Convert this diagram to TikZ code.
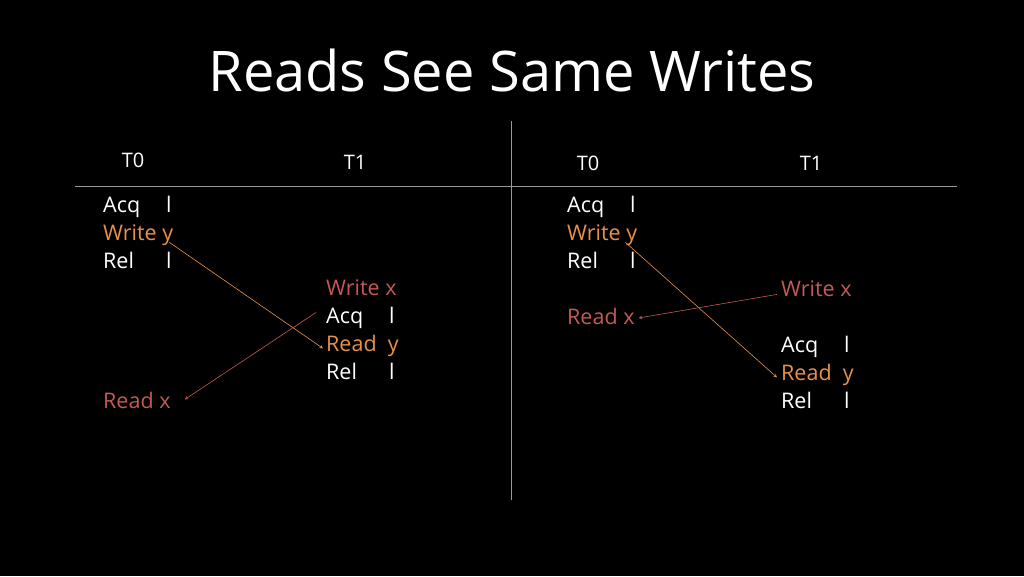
\documentclass[tikz,border=0pt]{standalone}
\usepackage{fontspec}
\setmainfont{Open Sans}
\usetikzlibrary{positioning}
\definecolor{wry}{RGB}{232,145,74}
\definecolor{rdx}{RGB}{196,90,84}
\tikzset{
  txt/.style={anchor=base west,inner sep=0pt,text=white,font=\fontsize{21.5}{26}\selectfont},
  hdr/.style={inner sep=0pt,text=white,font=\fontsize{20}{24}\selectfont},
  link/.style={line width=0.6pt,-stealth}
}
\newcommand{\lk}[2]{\makebox[63pt][l]{#1}#2}
\begin{document}
\begin{tikzpicture}[x=1pt,y=-1pt]
  \fill[black] (0,0) rectangle (1024,576);
  \useasboundingbox (0,0) rectangle (1024,576);
  %► Title and rules
  \node[text=white,font=\fontsize{56}{66}\selectfont] (title) at (512,70) {Reads See Same Writes};
  \draw[gray!80,line width=0.8pt] (75,186) -- (957,186);
  \draw[gray!80,line width=0.8pt] (511,121) -- (511,500);
  %► Left case
  \node[hdr] (lt0) at (133,160) {T0};
  \node[hdr] (lt1) at (355,162) {T1};
  \node[txt] (lacq0) at (103,212) {\lk{Acq}{l}};
  \node[txt,text=wry] (lwy) at (103,240) {Write y};
  \node[txt] (lrel0) at (103,268) {\lk{Rel}{l}};
  \node[txt,text=rdx] (lwx) at (326,295) {Write x};
  \node[txt] (lacq1) at (326,323) {\lk{Acq}{l}};
  \node[txt,text=wry] (lry) at (326,351) {Read\ \ y};
  \node[txt] (lrel1) at (326,379) {\lk{Rel}{l}};
  \node[txt,text=rdx] (lrx) at (103,408) {Read x};
  \draw[link,wry] ([xshift=-4pt,yshift=3pt]lwy.south east) -- ([xshift=-3pt,yshift=-3pt]lry.west);
  \draw[link,rdx] ([xshift=-10pt,yshift=-6pt]lacq1.north west) -- ([xshift=14pt,yshift=-8pt]lrx.north east);
  %► Right case
  \node[hdr] (rt0) at (588,163) {T0};
  \node[hdr] (rt1) at (811,163) {T1};
  \node[txt] (racq0) at (567,212) {\lk{Acq}{l}};
  \node[txt,text=wry] (rwy) at (567,240) {Write y};
  \node[txt] (rrel0) at (567,268) {\lk{Rel}{l}};
  \node[txt,text=rdx] (rrx) at (567,324) {Read x};
  \node[txt,text=rdx] (rwx) at (781,296) {Write x};
  \node[txt] (racq1) at (781,352) {\lk{Acq}{l}};
  \node[txt,text=wry] (rry) at (781,380) {Read\ \ y};
  \node[txt] (rrel1) at (781,408) {\lk{Rel}{l}};
  \draw[link,wry] ([xshift=-12pt,yshift=3pt]rwy.south east) -- ([xshift=-4pt,yshift=-3pt]rry.west);
  \draw[link,rdx] ([xshift=-4pt,yshift=2pt]rwx.south west) -- ([xshift=4pt,yshift=-2pt]rrx.east);
\end{tikzpicture}
\end{document}
